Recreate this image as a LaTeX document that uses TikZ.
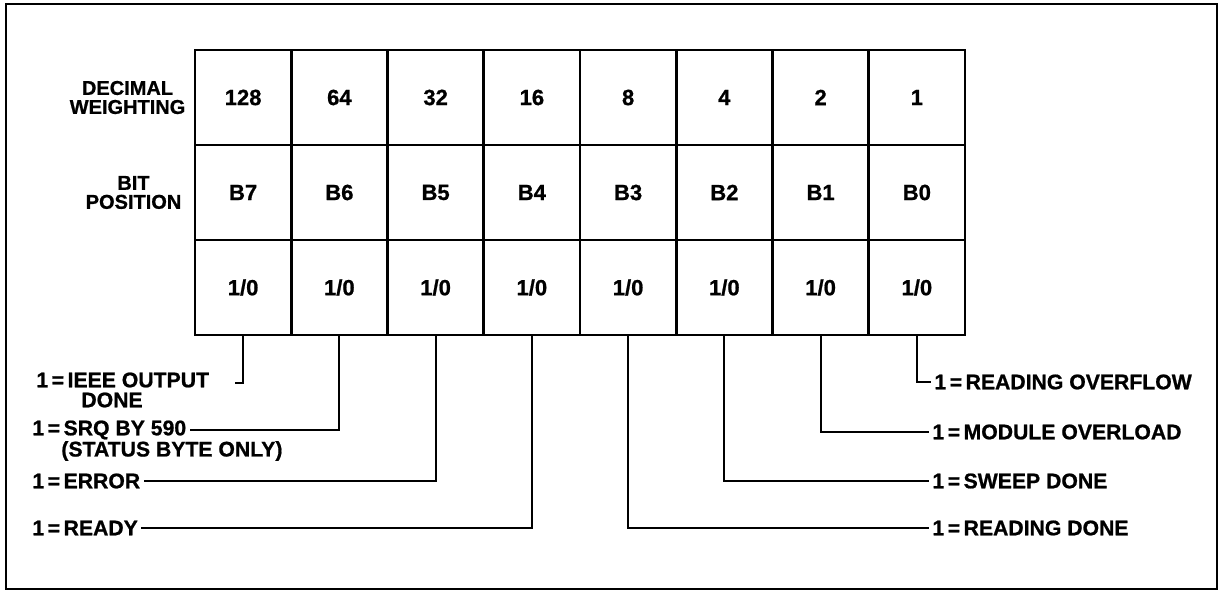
\documentclass[tikz,border=0pt]{standalone}
\usepackage{fontspec}
\setmainfont{Liberation Sans}[FakeBold=0.9]
\usetikzlibrary{positioning}

\begin{document}
\begin{tikzpicture}[x=0.5pt,y=-0.5pt,
  every node/.style={font=\fontsize{10.6}{9.5}\selectfont\bfseries},
  cellbox/.style={draw, line width=1.3pt, minimum width=48.125pt,
    minimum height=47.5pt, inner sep=0pt, font=\fontsize{11}{12}\selectfont\bfseries},
  rowhead/.style={align=center, inner sep=0pt, font=\fontsize{10}{9.5}\selectfont\bfseries},
  bitlbl/.style={anchor=west, inner sep=1.5pt},
  lead/.style={line width=1.1pt}]

  \useasboundingbox (0,0) rectangle (1221,592);
  \draw[line width=1pt] (6,4) rectangle (1217,589);

  % register cells
  \foreach \w/\b [count=\i from 0] in {128/B7,64/B6,32/B5,16/B4,8/B3,4/B2,2/B1,1/B0} {
    \node[cellbox] (w\b) at (243.125+96.25*\i, 97.5) {\w};
    \node[cellbox] (p\b) at (243.125+96.25*\i, 192.5) {\b};
    \node[cellbox] (v\b) at (243.125+96.25*\i, 287.5) {1/0};
  }
  \node[rowhead, left=4pt of wB7] (hdweight) {DECIMAL\\WEIGHTING};
  \node[rowhead, left=6pt of pB7] (hdbit) {BIT\\POSITION};

  % left side meanings
  \node[bitlbl] (ieee) at (33,380) {1\,=\,IEEE OUTPUT};
  \node[bitlbl] (ieeedone) at (78,400) {DONE};
  \node[bitlbl] (srq) at (29,430) {1\,=\,SRQ BY 590};
  \node[bitlbl] (srqnote) at (58,451) {(STATUS BYTE ONLY)};
  \node[bitlbl] (err) at (29,481) {1\,=\,ERROR};
  \node[bitlbl] (ready) at (29,528) {1\,=\,READY};
  \coordinate (hook7) at (235,383);

  % right side meanings
  \node[bitlbl] (rover) at (931,382) {1\,=\,READING OVERFLOW};
  \node[bitlbl] (modov) at (929,432) {1\,=\,MODULE OVERLOAD};
  \node[bitlbl] (sweep) at (929,481) {1\,=\,SWEEP DONE};
  \node[bitlbl] (rdone) at (929,528) {1\,=\,READING DONE};

  \draw[lead] (vB7.south) |- (hook7);
  \draw[lead] (vB6.south) |- (srq.east);
  \draw[lead] (vB5.south) |- (err.east);
  \draw[lead] (vB4.south) |- (ready.east);
  \draw[lead] (vB3.south) |- (rdone.west);
  \draw[lead] (vB2.south) |- (sweep.west);
  \draw[lead] (vB1.south) |- (modov.west);
  \draw[lead] (vB0.south) |- (rover.west);
\end{tikzpicture}
\end{document}
